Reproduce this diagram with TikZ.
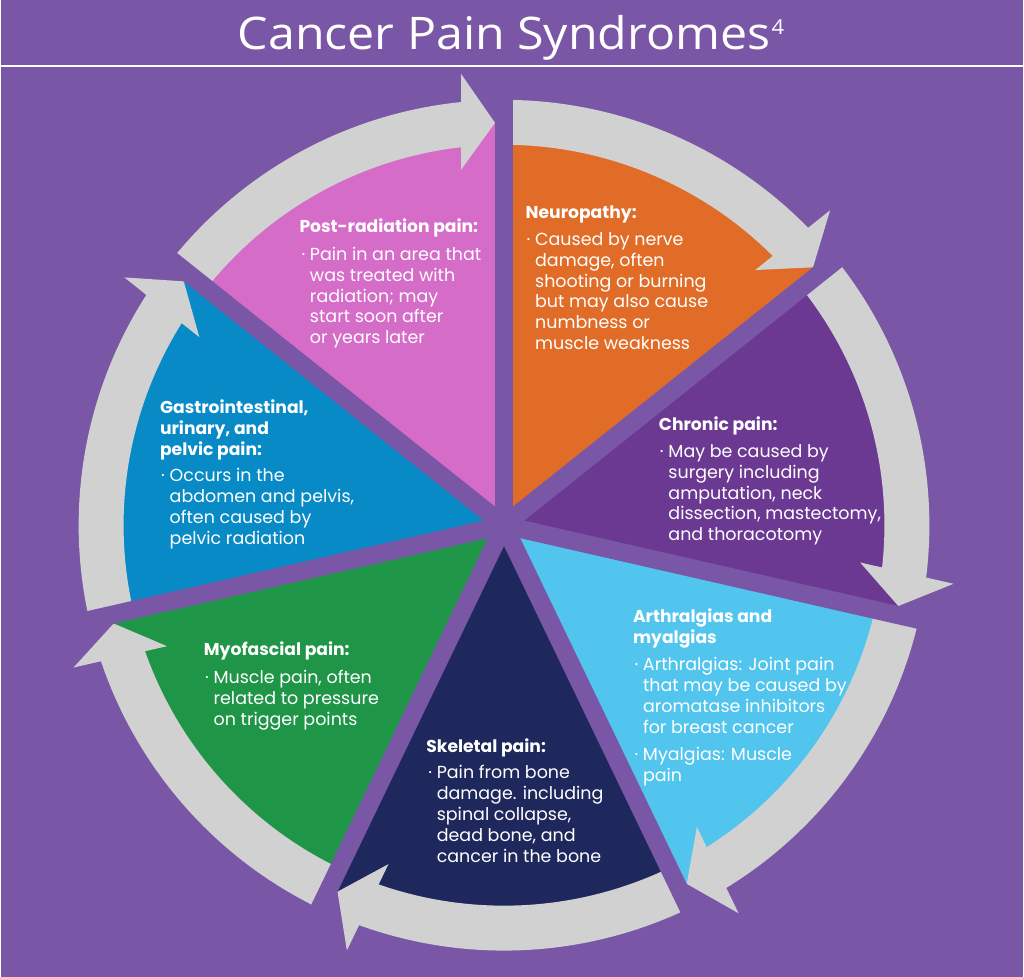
\documentclass[tikz,border=0pt]{standalone}
\usepackage{fontspec}
\setmainfont{Poppins}
\newfontfamily\titlefont{Open Sans}
\definecolor{bgp}{HTML}{7A57A6}
\definecolor{agray}{HTML}{D1D1D1}
\definecolor{cOrange}{HTML}{E06C27}
\definecolor{cPurple}{HTML}{6B3992}
\definecolor{cLblue}{HTML}{52C5EF}
\definecolor{cNavy}{HTML}{1F285C}
\definecolor{cGreen}{HTML}{1F9548}
\definecolor{cBlue}{HTML}{078AC6}
\definecolor{cPink}{HTML}{D56CC7}
\newcommand{\bulx}{\makebox[9.5pt][l]{\hspace{1pt}·}}
\newcommand{\indx}{\hspace*{9.5pt}}
\newcommand{\txtl}[1]{\begin{tabular}[t]{@{}l@{}}#1\end{tabular}}
\tikzset{
  headtxt/.style={anchor=base west, inner sep=0pt, text=white, font=\fontsize{17.2}{21}\selectfont\bfseries},
  bodytxt/.style={anchor=base west, inner sep=0pt, text=white, font=\fontsize{17.5}{20.9}\selectfont},
  gapline/.style={draw=bgp, line width=18pt},
  arrowfill/.style={fill=agray},
}
\begin{document}
\begin{tikzpicture}[x=1pt,y=1pt]
\begin{scope}[shift={(-504,526)}, y=-1pt]
  \fill[bgp] (0,0) rectangle (1024,978);
  \useasboundingbox (0,0) rectangle (1024,978);
\end{scope}

% sectors
\foreach \c [count=\i from 0] in {cOrange,cPurple,cLblue,cNavy,cGreen,cBlue,cPink} {
  \pgfmathsetmacro\a{90-51.428571*\i}
  \fill[\c] (0,0) -- (\a:403) arc[start angle=\a, delta angle=-51.428571, radius=403] -- cycle;
}
% arrows
\foreach \i in {0,...,6} {
  \pgfmathsetmacro\a{90-51.428571*\i}
  \pgfmathsetmacro\b{\a-51.428571}
  \pgfmathsetmacro\e{\b+5.5}
  \fill[arrowfill] (\a:381) arc[start angle=\a, end angle=\e, radius=381] -- (\e:426) arc[start angle=\e, end angle=\a, radius=426] -- cycle;
  \fill[arrowfill, rotate=\b] (356,43) -- (403,9) -- (452,43) -- cycle;
}
% gaps
\foreach \i in {0,...,6} {
  \draw[gapline] (0,0) -- ({90-51.428571*\i}:456);
}

\begin{scope}[shift={(-504,526)}, y=-1pt]
  \node[anchor=base, inner sep=0pt, text=white, font=\titlefont\fontsize{45}{45}\selectfont] (title) at (511,50) {\scalebox{1.075}[1]{Cancer Pain Syndromes\hspace{1pt}\raisebox{15.5pt}{\fontsize{20.5}{20.5}\selectfont 4}}};
  \coordinate (ruleL) at (0,66);
  \coordinate (ruleR) at (1024,66);
  \draw[white, line width=1.5pt] (ruleL) -- (ruleR);
  % Post-radiation
  \node[headtxt] (pinkH) at (299,232.7) {Post-radiation pain:};
  \node[bodytxt] (pinkB) at (300,260.7) {\txtl{\bulx Pain in an area that\\ \indx was treated with\\ \indx radiation; may\\ \indx start soon after\\ \indx or years later}};
  % Neuropathy
  \node[headtxt] (orangeH) at (525.5,218.7) {Neuropathy:};
  \node[bodytxt] (orangeB) at (525.5,245.7) {\txtl{\bulx Caused by nerve\\ \indx damage, often\\ \indx shooting or burning\\ \indx but may also cause\\ \indx numbness or\\ \indx muscle weakness}};
  % Chronic
  \node[headtxt] (purpleH) at (659,430.7) {Chronic pain:};
  \node[bodytxt] (purpleB) at (659,458) {\txtl{\bulx May be caused by\\ \indx surgery including\\ \indx amputation, neck\\ \indx dissection, mastectomy,\\ \indx and thoracotomy}};
  % Arthralgias
  \node[headtxt] (lblueH) at (633,623.3) {\txtl{Arthralgias and\\ myalgias}};
  \node[bodytxt] (lblueB) at (633.5,671.7) {\txtl{\bulx Arthralgias: Joint pain\\ \indx that may be caused by\\ \indx aromatase inhibitors\\ \indx for breast cancer\\[6.5pt] \bulx Myalgias: Muscle\\ \indx pain}};
  % Skeletal
  \node[headtxt] (navyH) at (426,754) {Skeletal pain:};
  \node[bodytxt] (navyB) at (427,780) {\txtl{\bulx Pain from bone\\ \indx damage. including\\ \indx spinal collapse,\\ \indx dead bone, and\\ \indx cancer in the bone}};
  % Myofascial
  \node[headtxt] (greenH) at (203.3,656.7) {Myofascial pain:};
  \node[bodytxt] (greenB) at (203.5,684.3) {\txtl{\bulx Muscle pain, often\\ \indx related to pressure\\ \indx on trigger points}};
  % GI
  \node[headtxt] (blueH) at (159.3,414) {\txtl{Gastrointestinal,\\ urinary, and\\ pelvic pain:}};
  \node[bodytxt] (blueB) at (159.5,482.7) {\txtl{\bulx Occurs in the\\ \indx abdomen and pelvis,\\ \indx often caused by\\ \indx pelvic radiation}};
\end{scope}
\end{tikzpicture}
\end{document}
